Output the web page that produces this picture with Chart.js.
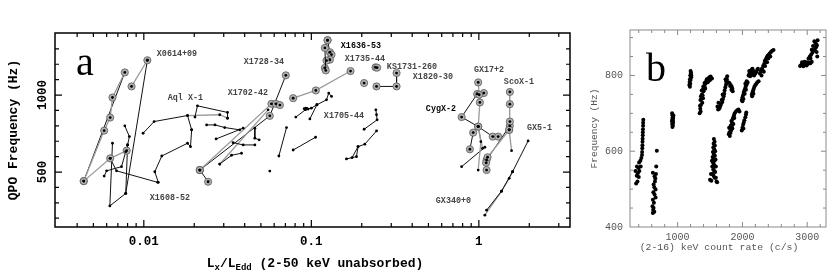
<!DOCTYPE html>
<html>
<head>
<meta charset="utf-8">
<title>kHz QPO frequency</title>
<script src="https://cdn.jsdelivr.net/npm/chart.js@4.4.1/dist/chart.umd.min.js"></script>
<style>
  body { margin: 0; background: #fff; }
  #wrap { position: relative; width: 830px; height: 273px; }
  #chartA { position: absolute; left: 0; top: 0; }
  #chartB { position: absolute; left: 575px; top: 0; }
</style>
</head>
<body>
<div id="wrap">
  <canvas id="chartA" width="575" height="273"></canvas>
  <canvas id="chartB" width="255" height="273"></canvas>
</div>
<script>
// ---- panel a: QPO frequency (Hz) vs Lx/LEdd, one array per track, [Lx/LEdd, Hz]
const x0614Upper = [[0.00438, 441], [0.0058, 769], [0.0063, 854], [0.0065, 984], [0.0077, 1147]];
const x0614Jump = [[0.00438, 441], [0.0077, 1147]];
const x0614Pair = [[0.00845, 1056], [0.0105, 1226]];
const x1608Upper = [[0.00438, 441], [0.0063, 589], [0.0079, 639]];
const x1608Drop = [[0.0105, 1226], [0.0078, 361], [0.00627, 280], [0.0065, 687]];
const x1608Rise = [[0.0078, 361], [0.0080, 676], [0.0082, 730], [0.0077, 800]];
const x1608Lower = [[0.0058, 474], [0.0060, 508], [0.00736, 535], [0.0078, 632], [0.0080, 676]];
const x1608Tail = [[0.0063, 589], [0.00687, 508], [0.0121, 433]];
const aqlUpperA = [[0.0099, 752], [0.01152, 828], [0.01823, 867], [0.0193, 774]];
const aqlUpperB = [[0.0202, 857], [0.0209, 930], [0.0316, 887], [0.0316, 850]];
const aqlUpperC = [[0.01823, 867], [0.0284, 872], [0.0316, 850]];
const aqlLower = [[0.0122, 433], [0.01163, 502], [0.0128, 604], [0.01823, 687], [0.019, 665], [0.0193, 774]];
const x1702A = [[0.0237, 806], [0.0266, 806], [0.0304, 789], [0.0374, 774]];
const x1702B = [[0.027, 715], [0.0392, 785]];
const x1702C = [[0.046, 785], [0.046, 720], [0.0488, 709]];
const x1702D = [[0.0341, 691], [0.0392, 676], [0.046, 676]];
const x1702E = [[0.0284, 552], [0.0334, 609], [0.0383, 622]];
const x1702F = [[0.0284, 552], [0.0552, 904]];
const x1728Upper = [[0.0216, 513], [0.0578, 943], [0.0614, 943], [0.0649, 935]];
const x1728Line = [[0.0216, 513], [0.0565, 865], [0.0704, 1128]];
const x1728Low = [[0.0216, 513], [0.0242, 437]];
const x1728Dot = [[0.0565, 506]];
const x1728B = [[0.064, 604], [0.0711, 789]];
const x1728C = [[0.0779, 643], [0.106, 726]];
const x1735 = [[0.0779, 980], [0.1064, 1030], [0.1714, 1156]];
const x1636A = [[0.125, 1356], [0.1204, 1306], [0.122, 1160]];
const x1636B = [[0.125, 1356], [0.129, 1278], [0.132, 1263], [0.129, 1230], [0.1232, 1224], [0.1204, 1176]];
const x1636C = [[0.0808, 857], [0.0935, 909], [0.100, 915], [0.108, 937]];
const x1636D = [[0.098, 845], [0.108, 937], [0.1232, 969], [0.127, 1013], [0.132, 991]];
const x1636Blob = [[0.0906, 911], [0.0927, 915], [0.0957, 909], [0.092, 905], [0.094, 913]];
const ks1731 = [[0.3227, 1143], [0.3227, 1056], [0.245, 1056]];
const ks1731Pts = [[0.2416, 1180], [0.247, 1178], [0.2066, 1078]];
const x1705A = [[0.2427, 904], [0.245, 872], [0.247, 839], [0.2066, 778]];
const x1705B = [[0.245, 767], [0.2086, 681], [0.19, 665], [0.186, 600], [0.162, 585]];
const x1705C = [[0.19, 665], [0.175, 593]];
const gx17A = [[0.991, 1082], [1.005, 1002], [1.014, 952], [0.991, 795]];
const gx17B = [[0.991, 795], [1.028, 697], [0.991, 513]];
const gx17C = [[0.991, 795], [1.052, 654]];
const cygA = [[1.071, 1013], [0.977, 1007], [0.789, 857], [0.991, 795], [1.21, 730], [1.304, 730]];
const cygB = [[0.925, 756], [0.884, 648]];
const cygC = [[0.789, 535], [1.086, 661]];
const scoA = [[1.531, 1020], [1.531, 941], [1.531, 828], [1.517, 774]];
const scoTail = [[1.517, 774], [1.567, 639]];
const scoB = [[1.517, 774], [1.127, 596], [1.112, 513]];
const scoC = [[1.53, 800], [1.112, 578], [1.105, 560]];
const gx5A = [[1.968, 702], [1.589, 502], [1.366, 376], [1.112, 252]];
const gx5B = [[1.589, 502], [1.517, 459], [1.366, 376], [1.086, 220]];

const sourceNames = ['X0614+09', 'X1728-34', 'Aql X-1', 'X1702-42', 'X1608-52', 'X1636-53', 'X1735-44',
  'KS1731-260', 'X1820-30', 'X1705-44', 'GX17+2', 'ScoX-1', 'CygX-2', 'GX5-1', 'GX340+0'];
const labelAnchors = [[0.01196, 1269], [0.0395, 1217], [0.0139, 982], [0.0317, 1015], [0.01086, 330],
  [0.15, 1321], [0.1585, 1237], [0.2824, 1185], [0.4036, 1119], [0.1188, 865], [0.934, 1165],
  [1.41, 1087], [0.4826, 911], [1.935, 787], [0.5536, 311]];
const boldNames = ['X1636-53', 'CygX-2'];

const lumLabelTicks = [0.01, 0.1, 1];
const lumTicks = [0.004, 0.005, 0.006, 0.007, 0.008, 0.009, 0.01, 0.02, 0.03, 0.04, 0.05, 0.06, 0.07,
  0.08, 0.09, 0.1, 0.2, 0.3, 0.4, 0.5, 0.6, 0.7, 0.8, 0.9, 1, 2, 3];
const freqLabelTicks = [500, 1000];
const freqTicks = [200, 300, 400, 500, 600, 700, 800, 900, 1000, 1100, 1200, 1300];

// ---- panel b: frequency (Hz) vs 2-16 keV count rate (c/s), [rate, Hz]
const parallelTrack1 = [[470, 683], [468, 675], [467, 667], [465, 658], [463, 650], [462, 642], [460, 633],
  [458, 625], [457, 616], [455, 608], [452, 598], [450, 590], [440, 582], [425, 575], [430, 560], [405, 570],
  [395, 556], [410, 548], [385, 542], [400, 532], [370, 535], [380, 520], [360, 515], [350, 548], [372, 560]];
const parallelTrack2 = [[679, 601], [670, 560], [618, 543], [644, 534], [629, 512], [660, 499], [644, 486],
  [618, 472], [634, 464], [629, 450], [618, 437], [650, 520], [640, 505], [625, 492], [660, 478], [612, 455],
  [640, 440], [622, 445], [665, 540], [655, 528]];
const parallelTrack3 = [[915, 700], [920, 695], [925, 690], [918, 685], [928, 682], [922, 678], [930, 675],
  [916, 672], [926, 668], [920, 664], [932, 688], [912, 680], [935, 694]];
const parallelTrack4 = [[1200, 812], [1205, 805], [1195, 800], [1210, 795], [1190, 790], [1200, 788],
  [1185, 783], [1195, 778], [1180, 775], [1190, 770], [1205, 808], [1212, 800]];
const parallelTrack5 = [[1340, 700], [1350, 712], [1345, 720], [1360, 722], [1352, 735], [1368, 738],
  [1360, 745], [1375, 750], [1385, 748], [1372, 760], [1390, 762], [1400, 758], [1395, 770], [1410, 772],
  [1420, 768], [1415, 780], [1430, 778], [1440, 785], [1450, 790], [1470, 792], [1490, 795], [1510, 797],
  [1530, 792], [1465, 782], [1380, 728], [1392, 740], [1355, 705], [1425, 765], [1480, 786], [1500, 788]];
const parallelTrack6 = [[1765, 798], [1760, 790], [1750, 785], [1745, 775], [1735, 768], [1725, 760],
  [1720, 752], [1710, 745], [1700, 738], [1690, 730], [1680, 735], [1670, 725], [1660, 720], [1650, 715],
  [1640, 712], [1625, 710], [1615, 718], [1630, 728], [1695, 750], [1740, 790], [1755, 780], [1780, 782],
  [1800, 780], [1820, 775], [1835, 770], [1845, 765], [1850, 758], [1830, 762], [1810, 772]];
const parallelTrack7 = [[1560, 632], [1570, 625], [1555, 620], [1575, 615], [1550, 610], [1565, 605],
  [1580, 600], [1545, 598], [1560, 592], [1575, 588], [1540, 585], [1555, 580], [1570, 575], [1585, 578],
  [1545, 570], [1560, 565], [1575, 560], [1535, 560], [1550, 552], [1565, 548], [1580, 545], [1540, 540],
  [1555, 535], [1570, 530], [1500, 525], [1520, 522], [1590, 530], [1600, 520], [1610, 518], [1515, 540],
  [1530, 575], [1590, 560]];
const parallelTrack8 = [[1790, 645], [1800, 650], [1815, 648], [1810, 660], [1825, 655], [1795, 662],
  [1820, 668], [1835, 665], [1840, 675], [1830, 680], [1850, 685], [1860, 690], [1870, 695], [1880, 700],
  [1900, 705], [1920, 708], [1940, 710], [1955, 705], [1845, 660], [1805, 640], [1860, 672], [1875, 688],
  [1990, 655], [2000, 662], [2010, 670], [2020, 675], [2030, 682], [2045, 690], [2055, 697], [2060, 702],
  [2015, 660]];
const parallelTrack9 = [[1990, 735], [2000, 742], [2010, 748], [2020, 755], [2030, 760], [2040, 765],
  [2050, 770], [2060, 775], [2070, 778], [2080, 782], [2000, 732], [2015, 738], [2035, 752], [2055, 762],
  [2045, 778], [2065, 785], [2145, 750], [2155, 755], [2165, 760], [2175, 765], [2185, 770], [2200, 775],
  [2215, 778], [2230, 782], [2250, 785], [2150, 745], [2170, 752]];
const parallelTrack10 = [[2095, 800], [2110, 805], [2125, 810], [2140, 815], [2155, 818], [2170, 812],
  [2185, 808], [2200, 805], [2215, 810], [2230, 815], [2120, 798], [2150, 802], [2180, 800], [2105, 812],
  [2160, 808], [2240, 818]];
const parallelTrack11 = [[2270, 805], [2285, 812], [2300, 818], [2310, 815], [2320, 825], [2335, 830],
  [2345, 838], [2360, 842], [2375, 848], [2390, 852], [2405, 855], [2420, 858], [2440, 862], [2460, 865],
  [2480, 867], [2330, 810], [2350, 825], [2380, 835], [2400, 845], [2295, 800], [2430, 850]];
const parallelTrack12 = [[2890, 825], [2910, 828], [2930, 830], [2950, 832], [2970, 828], [2990, 826],
  [3010, 830], [3030, 834], [3050, 832], [2920, 835], [2960, 836], [3000, 835], [2940, 824], [2980, 833],
  [3070, 836], [3020, 845], [3040, 850], [3060, 855], [3080, 860], [3100, 865], [3120, 870], [3140, 875],
  [3150, 880], [3130, 885], [3110, 890], [3160, 893], [3090, 878], [3070, 868], [3050, 845], [3145, 862],
  [3155, 850]];

const rateLabelTicks = [1000, 2000, 3000];
const rateTicks = [400, 600, 800, 1000, 1200, 1400, 1600, 1800, 2000, 2200, 2400, 2600, 2800, 3000, 3200];
const hzLabelTicks = [400, 600, 800];
const hzTicks = [450, 500, 550, 600, 650, 700, 750, 800, 850, 900];

// ---- styling
Chart.defaults.font.family = "'Liberation Mono', monospace";

const tracksA = [
  { pts: x0614Upper, line: 'gray', ring: true },
  { pts: x0614Jump, line: 'black', ring: false, dots: false },
  { pts: x0614Pair, line: 'gray', ring: true },
  { pts: x1608Upper, line: 'gray', ring: true },
  { pts: x1608Drop, line: 'black' },
  { pts: x1608Rise, line: 'black' },
  { pts: x1608Lower, line: 'black' },
  { pts: x1608Tail, line: 'black' },
  { pts: aqlUpperA, line: 'black' },
  { pts: aqlUpperB, line: 'black' },
  { pts: aqlUpperC, line: 'gray' },
  { pts: aqlLower, line: 'black' },
  { pts: x1702A, line: 'black' },
  { pts: x1702B, line: 'black' },
  { pts: x1702C, line: 'black' },
  { pts: x1702D, line: 'black' },
  { pts: x1702E, line: 'black' },
  { pts: x1702F, line: 'gray' },
  { pts: x1728Upper, line: 'gray', ring: true },
  { pts: x1728Line, line: 'black', ring: true },
  { pts: x1728Low, line: 'black', ring: true },
  { pts: x1728Dot, line: 'none' },
  { pts: x1728B, line: 'black' },
  { pts: x1728C, line: 'black' },
  { pts: x1735, line: 'gray', ring: true },
  { pts: x1636A, line: 'black', ring: true },
  { pts: x1636B, line: 'black', ring: true },
  { pts: x1636C, line: 'black' },
  { pts: x1636D, line: 'black' },
  { pts: x1636Blob, line: 'black' },
  { pts: ks1731, line: 'black', ring: true },
  { pts: ks1731Pts, line: 'none', ring: true },
  { pts: x1705A, line: 'black' },
  { pts: x1705B, line: 'black' },
  { pts: x1705C, line: 'black' },
  { pts: gx17A, line: 'gray', ring: true },
  { pts: gx17B, line: 'gray' },
  { pts: gx17C, line: 'gray' },
  { pts: cygA, line: 'black', ring: true },
  { pts: cygB, line: 'black', ring: true },
  { pts: cygC, line: 'black' },
  { pts: scoA, line: 'gray', ring: true },
  { pts: scoTail, line: 'gray' },
  { pts: scoB, line: 'gray', ring: true },
  { pts: scoC, line: 'black', ring: true },
  { pts: gx5A, line: 'black' },
  { pts: gx5B, line: 'gray' }
];

const lineColor = { black: '#111', gray: '#9a9a9a' };
const toXY = arr => arr.map(([x, y]) => ({ x, y }));

const datasetsA = [];
tracksA.forEach(t => {
  const pts = toXY(t.pts);
  datasetsA.push({
    data: pts, order: 2,
    showLine: t.line !== 'none',
    borderColor: lineColor[t.line] || 'transparent',
    borderWidth: t.line === 'gray' ? 1.3 : 1,
    pointRadius: t.ring ? 3.6 : 0,
    pointBackgroundColor: '#b0b0b0',
    pointBorderColor: '#5a5a5a',
    pointBorderWidth: 0.8
  });
  if (t.dots !== false) {
    datasetsA.push({
      data: pts, order: 1, showLine: false,
      pointRadius: 1.4, pointBackgroundColor: '#000', pointBorderWidth: 0
    });
  }
});

const clustersB = [parallelTrack1, parallelTrack2, parallelTrack3, parallelTrack4, parallelTrack5,
  parallelTrack6, parallelTrack7, parallelTrack8, parallelTrack9, parallelTrack10, parallelTrack11,
  parallelTrack12];
const datasetsB = clustersB.map(c => ({
  data: toXY(c), showLine: false,
  pointRadius: 2, pointBackgroundColor: '#000', pointBorderWidth: 0
}));

// frame with inward ticks on all four sides
function drawFrame(chart, spec) {
  const { ctx, chartArea: a, scales: { x, y } } = chart;
  ctx.save();
  ctx.strokeStyle = spec.color;
  ctx.lineWidth = spec.tickWidth;
  ctx.beginPath();
  spec.xTicks.forEach(v => {
    const px = x.getPixelForValue(v);
    const len = spec.xMajor.includes(v) ? spec.major : spec.minor;
    ctx.moveTo(px, a.bottom); ctx.lineTo(px, a.bottom - len);
    ctx.moveTo(px, a.top); ctx.lineTo(px, a.top + len);
  });
  spec.yTicks.forEach(v => {
    const py = y.getPixelForValue(v);
    const len = spec.yMajor.includes(v) ? spec.major : spec.minor;
    ctx.moveTo(a.left, py); ctx.lineTo(a.left + len, py);
    ctx.moveTo(a.right, py); ctx.lineTo(a.right - len, py);
  });
  ctx.stroke();
  ctx.lineWidth = spec.frameWidth;
  ctx.strokeRect(a.left, a.top, a.right - a.left, a.bottom - a.top);
  ctx.restore();
}

const decorA = {
  id: 'decorA',
  afterDraw(chart) {
    drawFrame(chart, {
      color: '#000', frameWidth: 1.5, tickWidth: 1.2, major: 7, minor: 4,
      xTicks: lumTicks, xMajor: lumLabelTicks, yTicks: freqTicks, yMajor: freqLabelTicks
    });
    const { ctx, chartArea: a, scales: { x, y } } = chart;
    ctx.save();
    // rotated tick labels on the frequency axis
    ctx.fillStyle = '#000';
    ctx.font = "bold 12.5px 'Liberation Mono'";
    ctx.textAlign = 'center';
    ctx.textBaseline = 'middle';
    freqLabelTicks.forEach(v => {
      ctx.save();
      ctx.translate(a.left - 12, y.getPixelForValue(v));
      ctx.rotate(-Math.PI / 2);
      ctx.fillText(String(v), 0, 0);
      ctx.restore();
    });
    // source names
    ctx.textAlign = 'left';
    sourceNames.forEach((n, i) => {
      const bold = boldNames.includes(n);
      ctx.font = "bold 8.4px 'Liberation Mono'";
      ctx.fillStyle = bold ? '#000' : '#444';
      ctx.fillText(n, x.getPixelForValue(labelAnchors[i][0]), y.getPixelForValue(labelAnchors[i][1]));
    });
    // panel letter
    ctx.fillStyle = '#000';
    ctx.textBaseline = 'alphabetic';
    ctx.font = "40px 'Liberation Serif'";
    ctx.fillText('a', a.left + 21, a.top + 42);
    // x title with subscripts
    const runs = [['L', 13, 0], ['x', 9, 3], ['/L', 13, 0], ['Edd', 9, 3], [' (2-50 keV unabsorbed)', 13, 0]];
    let total = 0;
    runs.forEach(r => { ctx.font = `bold ${r[1]}px 'Liberation Mono'`; total += ctx.measureText(r[0]).width; });
    let cx = 315 - total / 2;
    runs.forEach(r => {
      ctx.font = `bold ${r[1]}px 'Liberation Mono'`;
      ctx.fillText(r[0], cx, 267 + r[2]);
      cx += ctx.measureText(r[0]).width;
    });
    ctx.restore();
  }
};

const decorB = {
  id: 'decorB',
  afterDraw(chart) {
    drawFrame(chart, {
      color: '#8a8a8a', frameWidth: 1, tickWidth: 1, major: 5, minor: 3,
      xTicks: rateTicks, xMajor: rateLabelTicks, yTicks: hzTicks, yMajor: hzLabelTicks
    });
    const { ctx, chartArea: a } = chart;
    ctx.save();
    ctx.fillStyle = '#000';
    ctx.font = "40px 'Liberation Serif'";
    ctx.fillText('b', a.left + 16, a.top + 51);
    ctx.fillStyle = '#555';
    ctx.font = "9.8px 'Liberation Mono'";
    ctx.textAlign = 'center';
    ctx.textBaseline = 'middle';
    ctx.fillText('(2-16) keV count rate (c/s)', 144, 247);
    ctx.restore();
  }
};

new Chart(document.getElementById('chartA'), {
  type: 'scatter',
  data: { datasets: datasetsA },
  options: {
    responsive: false,
    animation: false,
    layout: { padding: { left: 0, right: 5, top: 33, bottom: 0 } },
    plugins: { legend: { display: false }, tooltip: { enabled: false } },
    scales: {
      x: {
        type: 'logarithmic', min: 0.00295, max: 3.5,
        afterBuildTicks: s => { s.ticks = lumLabelTicks.map(v => ({ value: v })); },
        afterFit: s => { s.height = 46; },
        grid: { display: false, drawTicks: false },
        border: { display: false },
        ticks: { color: '#000', font: { size: 12.5, weight: 'bold' }, padding: 7, callback: v => String(v) }
      },
      y: {
        min: 143, max: 1403,
        afterFit: s => { s.width = 55; },
        grid: { display: false, drawTicks: false },
        border: { display: false },
        ticks: { display: false },
        title: {
          display: true, text: 'QPO Frequency (Hz)', color: '#000',
          font: { size: 13, weight: 'bold' }, padding: { top: 6, bottom: 0 }
        }
      }
    }
  },
  plugins: [decorA]
});

new Chart(document.getElementById('chartB'), {
  type: 'scatter',
  data: { datasets: datasetsB },
  options: {
    responsive: false,
    animation: false,
    layout: { padding: { left: 0, right: 1.5, top: 30, bottom: 0 } },
    plugins: { legend: { display: false }, tooltip: { enabled: false } },
    scales: {
      x: {
        min: 265, max: 3290,
        afterBuildTicks: s => { s.ticks = rateLabelTicks.map(v => ({ value: v })); },
        afterFit: s => { s.height = 46; },
        grid: { display: false, drawTicks: false },
        border: { display: false },
        ticks: { color: '#555', font: { size: 10 }, padding: 4, callback: v => String(v) }
      },
      y: {
        min: 400, max: 920,
        afterBuildTicks: s => { s.ticks = hzLabelTicks.map(v => ({ value: v })); },
        afterFit: s => { s.width = 55; },
        grid: { display: false, drawTicks: false },
        border: { display: false },
        ticks: { color: '#555', font: { size: 10 }, padding: 7, callback: v => String(v) },
        title: {
          display: true, text: 'Frequency (Hz)', color: '#555',
          font: { size: 9.5 }, padding: { top: 14, bottom: 0 }
        }
      }
    }
  },
  plugins: [decorB]
});
</script>
</body>
</html>
